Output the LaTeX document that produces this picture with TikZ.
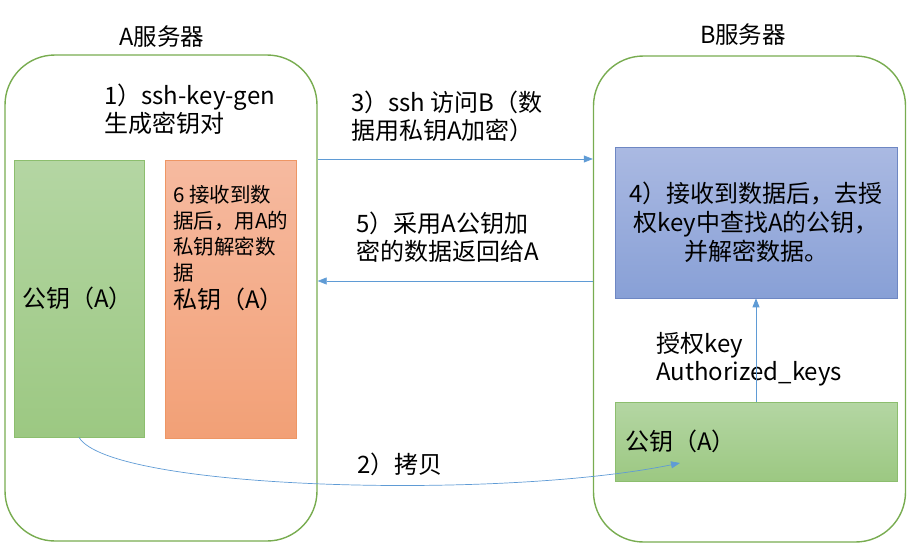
\documentclass[tikz,border=0pt]{standalone}
\usepackage{fontspec}
\setmainfont{Noto Sans CJK SC}
\usetikzlibrary{arrows.meta, calc, positioning}
\definecolor{frame}{RGB}{120, 172, 80}
\definecolor{pubtop}{RGB}{180, 214, 163}
\definecolor{pubbot}{RGB}{156, 200, 130}
\definecolor{pubdraw}{RGB}{140, 190, 110}
\definecolor{privtop}{RGB}{246, 186, 160}
\definecolor{privbot}{RGB}{242, 160, 118}
\definecolor{privdraw}{RGB}{238, 150, 100}
\definecolor{authtop}{RGB}{170, 185, 226}
\definecolor{authbot}{RGB}{136, 160, 214}
\definecolor{authdraw}{RGB}{110, 135, 195}
\definecolor{flowline}{RGB}{95, 155, 213}

\begin{document}
\begin{tikzpicture}[
	x=1pt, y=-1pt,
	% Styles
	server/.style={draw=frame, line width=1.4pt, rounded corners=50pt, minimum width=312pt, minimum height=486pt},
	title/.style={font=\fontsize{23.5}{26}\selectfont},
	keybox/.style={draw=pubdraw, top color=pubtop, bottom color=pubbot, line width=0.6pt},
	privbox/.style={draw=privdraw, top color=privtop, bottom color=privbot, line width=0.6pt, minimum width=131pt, minimum height=278pt},
	authbox/.style={draw=authdraw, top color=authtop, bottom color=authbot, line width=0.6pt},
	labeltext/.style={font=\fontsize{24}{28}\selectfont, align=left, inner sep=0pt},
	notetext/.style={font=\fontsize{20.5}{26}\selectfont, align=left, inner sep=0pt},
	flow/.style={draw=flowline, line width=0.7pt, -{Triangle[length=9pt, width=7pt]}}
	]
	\useasboundingbox (0,0) rectangle (909,551);
	
	% ==========================================
	% A server
	% ==========================================
	\node[server] (srvA) at (161, 298) {};
	\node[title] (titleA) at (162, 37) {A服务器};
	\node[labeltext, anchor=west] (keygen) at (104, 109) {1）ssh-key-gen\\生成密钥对};
	
	\node[keybox, minimum height=277pt, text width=114pt, inner sep=8pt, align=left, font=\fontsize{24}{28}\selectfont] (pubA) at (79, 298.5) {公钥（A）};
	\node[privbox] (privA) at (230.5, 299) {};
	\node[notetext, anchor=west] (decNote) at (173, 234) {6 接收到数\\据后，用A的\\私钥解密数\\据};
	\node[labeltext, anchor=west] (privLabel) at (173, 299) {私钥（A）};
	
	% ==========================================
	% B server
	% ==========================================
	\node[server] (srvB) at (749.5, 299) {};
	\node[title] (titleB) at (743, 35) {B服务器};
	
	\node[authbox, minimum width=282pt, minimum height=151pt, align=center, font=\fontsize{24}{29}\selectfont] (lookup) at (756, 222.5) {4）接收到数据后，去授\\权key中查找A的公钥，\\并解密数据。};
	\node[keybox, minimum height=79pt, text width=262pt, inner sep=10pt, align=left, font=\fontsize{24}{28}\selectfont] (pubB) at (756, 441.5) {公钥（A）};
	\node[labeltext, anchor=west] (authKeys) at (656, 359) {授权key\\Authorized\_keys};
	
	% ==========================================
	% Arrows
	% ==========================================
	\coordinate (reqY) at (0, 159);
	\coordinate (retY) at (0, 281);
	\coordinate (copyEnd) at (680, 463);
	
	% 3) request
	\draw[flow] (srvA.east |- reqY) -- (srvB.west |- reqY);
	\node[labeltext, anchor=west] (sshNote) at (351, 116) {3）ssh 访问B（数\\据用私钥A加密）};
	
	% 5) reply
	\draw[flow] (srvB.west |- retY) -- (srvA.east |- retY);
	\node[labeltext, anchor=west] (retNote) at (356, 237) {5）采用A公钥加\\密的数据返回给A};
	
	% 2) copy
	\draw[flow] (pubA.south) .. controls (110, 490) and (500, 500) .. (copyEnd);
	\node[labeltext, anchor=west] (copyNote) at (357, 464) {2）拷贝};
	
	% authorized keys
	\draw[flow] (pubB.north) -- (lookup.south);
	
\end{tikzpicture}
\end{document}
